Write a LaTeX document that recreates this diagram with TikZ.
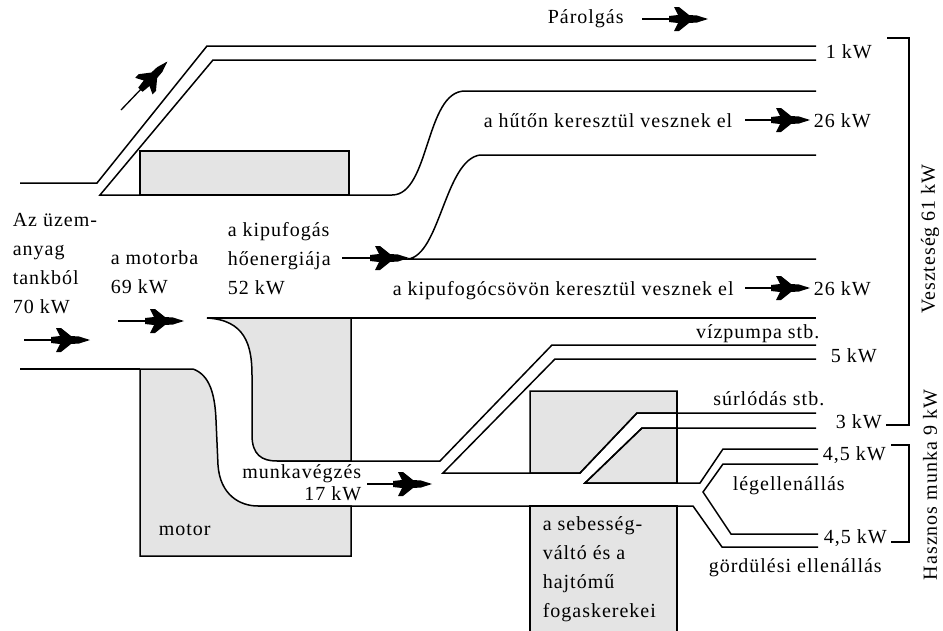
\documentclass[tikz,border=0pt]{standalone}
\usepackage{fontspec}
\setmainfont{Liberation Serif}[LetterSpace=5]
\usepackage{xcolor}
\usetikzlibrary{positioning}
\definecolor{partgray}{RGB}{228,228,228}
\tikzset{
  jet/.pic={
    \fill (2,0) -- (-9,-3.5) -- (-17,-4) -- (-27,-12) -- (-32,-12) -- (-28,-4)
      -- (-37,-3) -- (-37,3) -- (-28,4) -- (-32,12) -- (-27,12) -- (-17,4) -- (-9,3.5) -- cycle;
  }
}

\begin{document}
\begin{tikzpicture}[x=1pt,y=-1pt,line width=1.5pt,
    lbl/.style={inner sep=0pt,font=\fontsize{20}{29}\selectfont},
    flowarrow/.style={line width=1.3pt},
    part/.style={fill=partgray,draw=black}]
      \useasboundingbox (0,0) rectangle (943,630);
      % gray parts: radiator, engine, gearbox
      \draw[part] (140,151) rectangle (349,195);
      \draw[part] (207,318) -- (351,318) -- (351,461) -- (277,461)
        .. controls (262,461) and (252,455) .. (252,435) -- (252,375)
        .. controls (252,345) and (245,320) .. cycle;
      \draw[part] (140,369) -- (193,369) .. controls (210,375) and (215,395) .. (216,420)
        -- (218,465) .. controls (220,495) and (240,506) .. (258,506)
        -- (351,506) -- (351,556) -- (140,556) -- cycle;
      \draw[part] (530,473) -- (530,391) -- (677,391) -- (677,413) -- (637,413) -- (580,473) -- cycle;
      \draw[part] (585,483) -- (642,428) -- (677,428) -- (677,483) -- cycle;
      \draw[part] (530,640) -- (530,506) -- (677,506) -- (677,640);
      \draw (677,391) -- (677,483);
      % flow lines
      \draw (20,183) -- (97,183) -- (207,46) -- (816,46);
      \draw (816,60) -- (213,60) -- (100,195) -- (392,195)
        .. controls (430,195) and (425,91) .. (465,91) -- (816,91);
      \draw (816,155) -- (480,155) .. controls (445,160) and (440,255) .. (408,259) -- (816,259);
      \draw (207,318) -- (816,318);
      \draw (20,369) -- (140,369);
      \draw (258,506) -- (693,506) -- (722,547) -- (818,547);
      \draw (277,461) -- (440,461) -- (552,345) -- (816,345);
      \draw (816,359) -- (555,359) -- (443,473) -- (580,473) -- (637,413) -- (816,413);
      \draw (816,428) -- (642,428) -- (585,483) -- (700,483) -- (723,449) -- (818,449);
      \draw (818,464) -- (723,464) -- (703,492) -- (731,534) -- (818,534);
      % brackets
      \draw[line width=1.3pt] (887,38) -- (909,38) -- (909,425) -- (886,425);
      \draw[line width=1.3pt] (891,445) -- (909,445) -- (909,542) -- (891,542);
      % labels
      \node[lbl,anchor=base west] (evap) at (547,23) {Párolgás};
      \node[lbl,anchor=base west] (kw_1) at (825,58) {1 kW};
      \node[lbl,anchor=base west] (radtxt) at (483,127) {a hűtőn keresztül vesznek el};
      \node[lbl,anchor=base west] (kw_26a) at (813,127) {26 kW};
      \node[lbl,anchor=base west,align=left] (fuel) at (12,313) {Az üzem-\\anyag\\tankból\\70 kW};
      \node[lbl,anchor=base west,align=left] (engin) at (110,293) {a motorba\\69 kW};
      \node[lbl,anchor=base west,align=left] (heat) at (227,294) {a kipufogás\\hőenergiája\\52 kW};
      \node[lbl,anchor=base west] (pipetxt) at (392,295) {a kipufogócsövön keresztül vesznek el};
      \node[lbl,anchor=base west] (kw_26b) at (813,295) {26 kW};
      \node[lbl,anchor=base east] (pumptxt) at (820,338) {vízpumpa stb.};
      \node[lbl,anchor=base west] (kw_5) at (830,362) {5 kW};
      \node[lbl,anchor=base east] (fricttxt) at (825,405) {súrlódás stb.};
      \node[lbl,anchor=base west] (kw_3) at (835,428) {3 kW};
      \node[lbl,anchor=base west] (kw_45a) at (822,460) {4,5 kW};
      \node[lbl,anchor=base west] (airtxt) at (732,490) {légellenállás};
      \node[lbl,anchor=base west] (kw_45b) at (823,543) {4,5 kW};
      \node[lbl,anchor=base west] (rolltxt) at (708,572) {gördülési ellenállás};
      \node[lbl,anchor=base east,align=right,font=\fontsize{20}{22}\selectfont] (work) at (362,500) {munkavégzés\\17 kW};
      \node[lbl,anchor=base west] (motor) at (158,535) {motor};
      \node[lbl,anchor=base west,align=left] (gear) at (542,617) {a sebesség-\\váltó és a\\hajtómű\\fogaskerekei};
      \node[lbl,rotate=90] (loss) at (930,239) {Veszteség 61 kW};
      \node[lbl,rotate=90] (useful) at (930,485) {Hasznos munka 9 kW};
      % arrows
      \coordinate (up_1) at (121,110); \coordinate (up_2) at (166,63);
      \coordinate (ev_1) at (642,19); \coordinate (ev_2) at (706,19);
      \coordinate (rad_1) at (745,120); \coordinate (rad_2) at (808,120);
      \coordinate (heat_1) at (342,258); \coordinate (heat_2) at (407,258);
      \coordinate (in_1) at (118,321); \coordinate (in_2) at (182,321);
      \coordinate (tank_1) at (24,340); \coordinate (tank_2) at (88,340);
      \coordinate (pipe_1) at (745,288); \coordinate (pipe_2) at (808,288);
      \coordinate (work_1) at (367,484); \coordinate (work_2) at (430,484);
      \foreach \a in {up,ev,rad,heat,in,tank,pipe,work}
        \draw[flowarrow] (\a_1) -- (\a_2) pic[pos=1,sloped] {jet};
\end{tikzpicture}
\end{document}
